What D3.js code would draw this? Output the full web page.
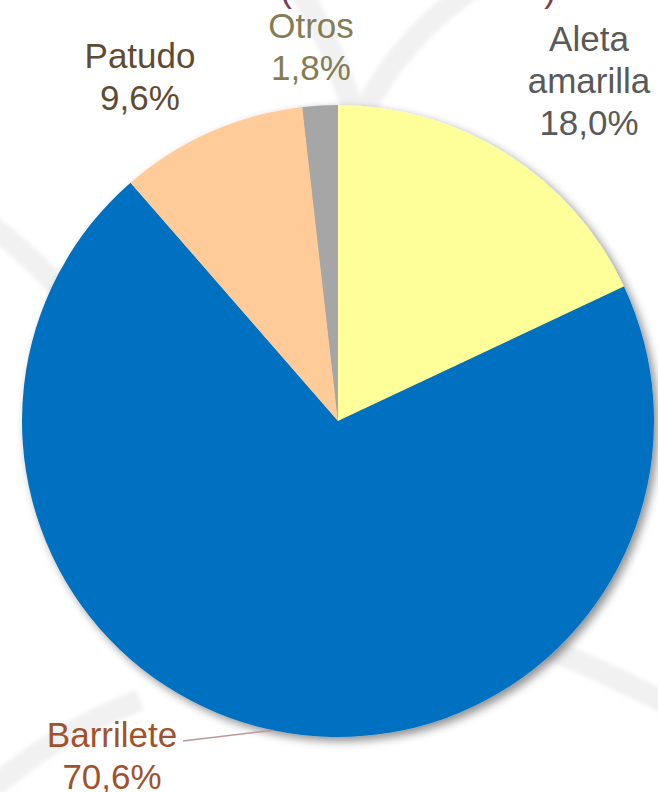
<!DOCTYPE html>
<html>
<head>
<meta charset="utf-8">
<script src="https://cdn.jsdelivr.net/npm/d3@7"></script>
<style>
  html, body { margin: 0; padding: 0; background: #ffffff; overflow: hidden; }
  svg { display: block; }
</style>
</head>
<body>
<svg id="chart" width="658" height="792"></svg>
<script>
// ---- data ----
const categories = ["Aleta amarilla", "Barrilete", "Patudo", "Otros"];
const labelLines = [["Aleta", "amarilla"], ["Barrilete"], ["Patudo"], ["Otros"]];
const values = [18.0, 70.6, 9.6, 1.8];
const valueLabels = ["18,0%", "70,6%", "9,6%", "1,8%"];

// ---- styles / layout ----
const sliceColors = ["#FFFF99", "#0070C0", "#FFCC99", "#A6A6A6"];
const textColors = ["#595959", "#A0522D", "#5E4B33", "#847C55"];
const W = 658, H = 792;
const cx = 338, cy = 421, R = 316;
const fontSize = 35, lineH = 42;
// label block centres (x) and first baseline (y)
const labelLayout = [
  { x: 589, y: 51 },
  { x: 112, y: 747 },
  { x: 140, y: 68 },
  { x: 311, y: 38 }
];

const svg = d3.select("#chart");
const defs = svg.append("defs");

const sh = defs.append("filter").attr("id", "shadow")
  .attr("x", "-10%").attr("y", "-10%").attr("width", "120%").attr("height", "120%");
sh.append("feGaussianBlur").attr("in", "SourceAlpha").attr("stdDeviation", 5).attr("result", "b");
sh.append("feOffset").attr("in", "b").attr("dx", 4).attr("dy", 4).attr("result", "o");
sh.append("feComponentTransfer").attr("in", "o").attr("result", "o2")
  .append("feFuncA").attr("type", "linear").attr("slope", 0.45);
const m = sh.append("feMerge");
m.append("feMergeNode").attr("in", "o2");
m.append("feMergeNode").attr("in", "SourceGraphic");

const bl = defs.append("filter").attr("id", "soft");
bl.append("feGaussianBlur").attr("stdDeviation", 2);

// faint watermark bands in the background
const wm = svg.append("g").attr("fill", "none").attr("stroke", "#F1F1F1")
  .attr("stroke-width", 22).attr("filter", "url(#soft)");
const bands = [
  "M 300 -10 Q 340 60 352 110",
  "M 470 -10 Q 400 40 365 110",
  "M -10 225 Q 30 255 70 300",
  "M 540 645 Q 600 670 670 705",
  "M -10 790 Q 60 730 140 700"
];
wm.selectAll("path").data(bands).join("path").attr("d", d => d);

// title remnants at top edge
svg.append("text").attr("x", 286).attr("y", 2).attr("text-anchor", "middle")
  .attr("font-family", "Liberation Sans, Arial, sans-serif").attr("font-size", fontSize)
  .attr("fill", "#7B3B55").text("(");
svg.append("text").attr("x", 550).attr("y", 2).attr("text-anchor", "middle")
  .attr("font-family", "Liberation Sans, Arial, sans-serif").attr("font-size", fontSize)
  .attr("fill", "#7B3B55").text(")");

// pie
const data = categories.map((c, i) => ({ cat: c, v: values[i], i }));
const pie = d3.pie().sort(null).value(d => d.v);
const arcs = pie(data);
const arc = d3.arc().innerRadius(0).outerRadius(R);

const g = svg.append("g").attr("transform", `translate(${cx},${cy})`);
const pieG = g.append("g").attr("filter", "url(#shadow)");
pieG.selectAll("path").data(arcs).join("path")
  .attr("d", arc)
  .attr("fill", d => sliceColors[d.data.i]);

// leader line for Barrilete (from label to the slice's mid-angle on the rim)
const bi = categories.indexOf("Barrilete");
const ba = arcs[bi];
const mid = (ba.startAngle + ba.endAngle) / 2;
const rimX = cx + R * Math.sin(mid), rimY = cy - R * Math.cos(mid);
const lay = labelLayout[bi];
svg.append("line")
  .attr("x1", lay.x + 71).attr("y1", lay.y - 6)
  .attr("x2", rimX).attr("y2", rimY)
  .attr("stroke", "#B9999C").attr("stroke-width", 1.3);

// labels
data.forEach((d, i) => {
  const L = labelLayout[i];
  const t = svg.append("text")
    .attr("text-anchor", "middle")
    .attr("font-family", "Liberation Sans, Arial, sans-serif")
    .attr("font-size", fontSize)
    .attr("fill", textColors[i]);
  const lines = labelLines[i].concat([valueLabels[i]]);
  lines.forEach((s, k) => {
    t.append("tspan").attr("x", L.x).attr("y", L.y + k * lineH).text(s);
  });
});
</script>
</body>
</html>
